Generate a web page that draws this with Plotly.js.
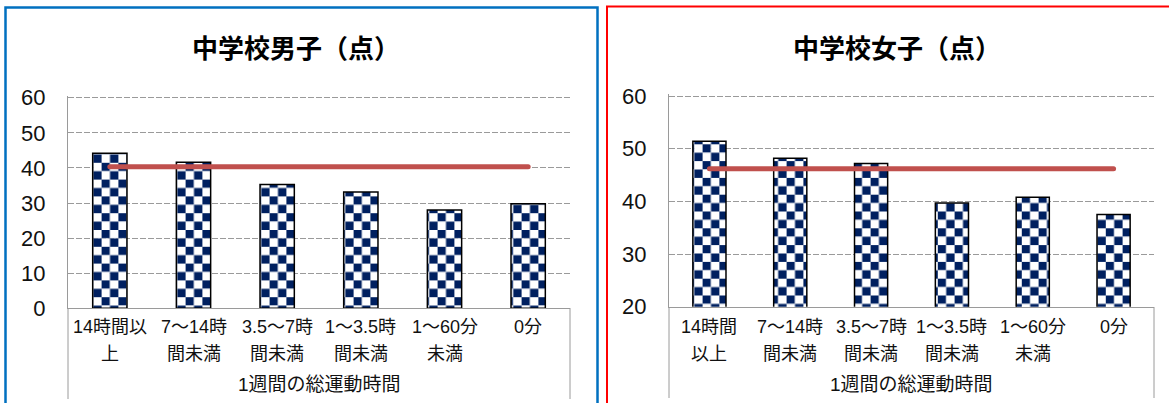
<!DOCTYPE html>
<html>
<head>
<meta charset="utf-8">
<script src="https://cdn.plot.ly/plotly-3.0.1.min.js"></script>
<style>
html,body{margin:0;padding:0;background:#fff;}
#chart{width:1169px;height:403px;}
</style>
</head>
<body>
<div id="chart"></div>
<script>
// ---- data ----
const categories = ['14時間以上','7～14時間未満','3.5～7時間未満','1～3.5時間未満','1～60分未満','0分'];
const maleLine1 = ['14時間以','7～14時','3.5～7時','1～3.5時','1～60分','0分'];
const maleLine2 = ['上','間未満','間未満','間未満','未満',''];
const femaleLine1 = ['14時間','7～14時','3.5～7時','1～3.5時','1～60分','0分'];
const femaleLine2 = ['以上','間未満','間未満','間未満','未満',''];
const maleScores = [44.2, 41.6, 35.3, 33.1, 28.0, 29.8];
const femaleScores = [51.4, 48.2, 47.2, 39.7, 40.8, 37.5];
const maleAverage = [40.3, 40.3, 40.3, 40.3, 40.3, 40.3];
const femaleAverage = [46.2, 46.2, 46.2, 46.2, 46.2, 46.2];
const maleTitle = '中学校男子（点）';
const femaleTitle = '中学校女子（点）';
const axisTitle = '1週間の総運動時間';

// ---- layout helpers ----
const W = 1169, H = 403;
const px = v => v / W;
const py = v => 1 - v / H;
const CJK = 'Noto Sans CJK JP';
const LBL = 'Liberation Sans, Noto Sans CJK JP, sans-serif';
const gridColor = '#9A9A9A';
const axisColor = '#9A9A9A';

const barStyle = {color: '#002060', line: {color: '#000', width: 1.5}};
const lineStyle = {color: '#C0504D', width: 5};

const traces = [
  {type: 'bar', x: categories, y: maleScores, xaxis: 'x', yaxis: 'y', marker: barStyle, hoverinfo: 'none'},
  {type: 'scatter', mode: 'lines', x: categories, y: maleAverage, xaxis: 'x', yaxis: 'y', line: lineStyle, hoverinfo: 'none'},
  {type: 'bar', x: categories, y: femaleScores, xaxis: 'x2', yaxis: 'y2', marker: barStyle, hoverinfo: 'none'},
  {type: 'scatter', mode: 'lines', x: categories, y: femaleAverage, xaxis: 'x2', yaxis: 'y2', line: lineStyle, hoverinfo: 'none'}
];

function yax(domain, range, anchor) {
  return {
    domain: domain, range: range, tick0: 0, dtick: 10, anchor: anchor,
    showgrid: true, gridcolor: gridColor, gridwidth: 1, griddash: '6px,2px',
    showline: true, linecolor: axisColor, linewidth: 1,
    zeroline: false, ticks: '', ticklabelstandoff: 17,
    tickfont: {family: LBL, size: 22, color: '#111'}, fixedrange: true
  };
}
function xax(domain, anchor) {
  return {
    domain: domain, anchor: anchor, type: 'category',
    showline: true, linecolor: axisColor, linewidth: 1, mirror: false,
    showgrid: false, zeroline: false, ticks: '', showticklabels: false, fixedrange: true
  };
}

const annotations = [];
function addLabels(xref, l1, l2, xc) {
  categories.forEach((c, i) => {
    annotations.push({xref: xref, yref: 'paper', x: c, y: py(327), text: l1[i], showarrow: false,
      xanchor: 'center', yanchor: 'middle', font: {family: LBL, size: 18, color: '#111'}});
    if (l2[i]) annotations.push({xref: xref, yref: 'paper', x: c, y: py(354), text: l2[i], showarrow: false,
      xanchor: 'center', yanchor: 'middle', font: {family: LBL, size: 18, color: '#111'}});
  });
  annotations.push({xref: 'paper', yref: 'paper', x: px(xc), y: py(384), text: axisTitle, showarrow: false,
    xanchor: 'center', yanchor: 'middle', font: {family: LBL, size: 19, color: '#111'}});
}
addLabels('x', maleLine1, maleLine2, 319);
addLabels('x2', femaleLine1, femaleLine2, 911.5);
annotations.push({xref: 'paper', yref: 'paper', x: px(296), y: py(47), text: '<b>' + maleTitle + '</b>', showarrow: false,
  xanchor: 'center', yanchor: 'middle', font: {family: CJK, size: 26, color: '#000'}});
annotations.push({xref: 'paper', yref: 'paper', x: px(897), y: py(47), text: '<b>' + femaleTitle + '</b>', showarrow: false,
  xanchor: 'center', yanchor: 'middle', font: {family: CJK, size: 26, color: '#000'}});

const shapes = [
  {type: 'rect', xref: 'paper', yref: 'paper', x0: px(5.5), x1: px(597.5), y0: py(7.5), y1: py(420), line: {color: '#0070C0', width: 2.5}},
  {type: 'rect', xref: 'paper', yref: 'paper', x0: px(607), x1: px(1190), y0: py(6.5), y1: py(420), line: {color: '#FF0000', width: 2}},
  {type: 'line', xref: 'paper', yref: 'paper', x0: px(68), x1: px(68), y0: py(308), y1: py(399), line: {color: axisColor, width: 1}},
  {type: 'line', xref: 'paper', yref: 'paper', x0: px(570), x1: px(570), y0: py(308), y1: py(399), line: {color: axisColor, width: 1}},
  {type: 'line', xref: 'paper', yref: 'paper', x0: px(669), x1: px(669), y0: py(307), y1: py(398), line: {color: axisColor, width: 1}},
  {type: 'line', xref: 'paper', yref: 'paper', x0: px(1154), x1: px(1154), y0: py(307), y1: py(398), line: {color: axisColor, width: 1}}
];

const layout = {
  width: W, height: H, margin: {l: 0, r: 0, t: 0, b: 0},
  paper_bgcolor: '#fff', plot_bgcolor: 'rgba(0,0,0,0)',
  showlegend: false, bargap: 0.59,
  xaxis: xax([px(68), px(570)], 'y'),
  yaxis: yax([py(308.3), py(95.6)], [0, 60.6], 'x'),
  xaxis2: xax([px(669), px(1154)], 'y2'),
  yaxis2: yax([py(306.7), py(93.9)], [20, 60.4], 'x2'),
  annotations: annotations, shapes: shapes
};

Plotly.newPlot('chart', traces, layout, {staticPlot: true, displayModeBar: false}).then(gd => {
  const NS = 'http://www.w3.org/2000/svg';
  const svg = gd.querySelector('.main-svg');
  let defs = svg.querySelector('defs');
  if (!defs) { defs = document.createElementNS(NS, 'defs'); svg.insertBefore(defs, svg.firstChild); }
  const s = 8.4;
  const pat = document.createElementNS(NS, 'pattern');
  pat.setAttribute('id', 'checker');
  pat.setAttribute('patternUnits', 'userSpaceOnUse');
  pat.setAttribute('width', 2 * s); pat.setAttribute('height', 2 * s);
  const mk = (x, y, c) => { const r = document.createElementNS(NS, 'rect');
    r.setAttribute('x', x); r.setAttribute('y', y); r.setAttribute('width', s); r.setAttribute('height', s);
    r.setAttribute('fill', c); pat.appendChild(r); };
  mk(0, 0, '#002060'); mk(s, 0, '#ffffff'); mk(0, s, '#ffffff'); mk(s, s, '#002060');
  defs.appendChild(pat);
  gd.querySelectorAll('.barlayer .point path').forEach(p => { p.style.fill = 'url(#checker)'; });
  gd.querySelectorAll('.scatterlayer .js-line').forEach(p => { p.style.strokeLinecap = 'round'; });
});
</script>
</body>
</html>
